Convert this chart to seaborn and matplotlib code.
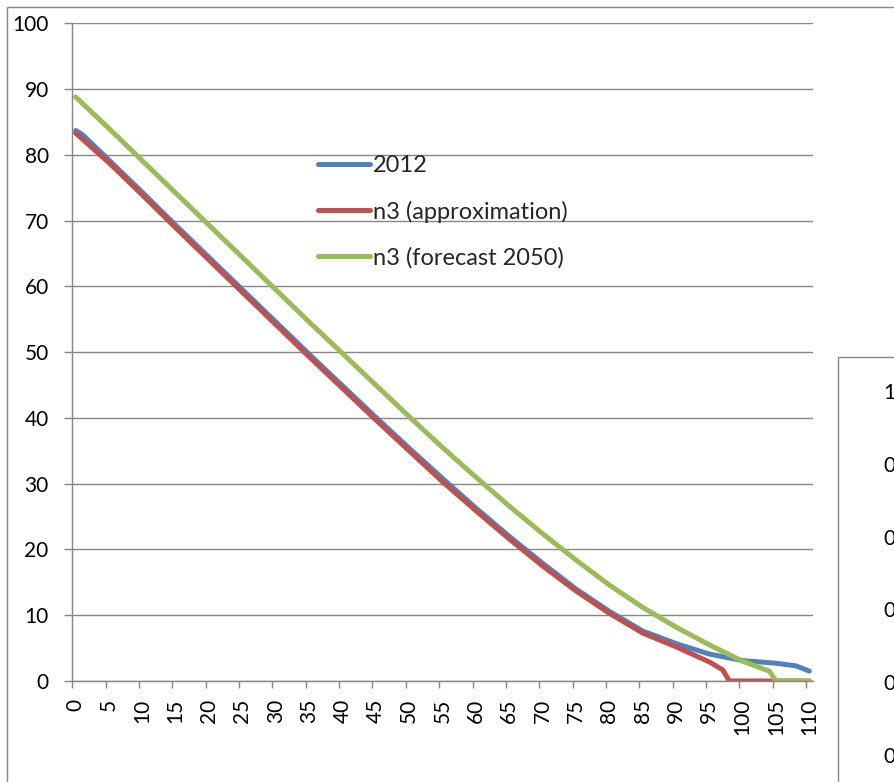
import matplotlib
matplotlib.use("Agg")
import matplotlib.pyplot as plt
import matplotlib.transforms as mtransforms
from matplotlib.patches import Rectangle
from matplotlib.ticker import FixedLocator
import numpy as np
import pandas as pd
import seaborn as sns

# Remaining life expectancy by age
ages_2012 = [0, 1, 5, 10, 15, 20, 25, 30, 35, 40, 45, 50, 55, 60, 65, 70, 75,
             80, 85, 90, 95, 100, 105, 108, 110]
e_2012 = [83.7, 83.1, 79.2, 74.3, 69.3, 64.4, 59.5, 54.6, 49.7, 44.9, 40.1, 35.4,
          30.8, 26.3, 22.0, 17.9, 14.0, 10.6, 7.6, 5.7, 4.1, 3.1, 2.7, 2.3, 1.5]

ages_approx = [0, 5, 10, 15, 20, 25, 30, 35, 40, 45, 50, 55, 60, 65, 70, 75,
               80, 85, 90, 95, 97, 98, 105, 110]
e_approx = [83.3, 78.8, 73.9, 68.9, 64.0, 59.1, 54.2, 49.3, 44.5, 39.7, 35.0,
            30.3, 25.9, 21.6, 17.5, 13.7, 10.3, 7.3, 5.2, 2.9, 1.7, 0.0, 0.0, 0.0]

ages_2050 = [0, 5, 10, 15, 20, 25, 30, 35, 40, 45, 50, 55, 60, 65, 70, 75,
             80, 85, 90, 95, 100, 104, 105, 110]
e_2050 = [88.8, 84.0, 79.1, 74.2, 69.3, 64.4, 59.5, 54.6, 49.8, 45.0, 40.2, 35.5,
          31.0, 26.6, 22.4, 18.4, 14.6, 11.2, 8.2, 5.5, 3.0, 1.5, 0.0, 0.0]

series_names = ["2012", "n3 (approximation)", "n3 (forecast 2050)"]
series_colors = ["#4F81BD", "#C0504D", "#9BBB59"]

x_ticks = list(range(0, 111, 5))
y_ticks = list(range(0, 101, 10))
side_ticks = [1.0, 0.8, 0.6, 0.4, 0.2, 0.0]

df = pd.concat([
    pd.DataFrame({"age": ages_2012, "value": e_2012, "series": series_names[0]}),
    pd.DataFrame({"age": ages_approx, "value": e_approx, "series": series_names[1]}),
    pd.DataFrame({"age": ages_2050, "value": e_2050, "series": series_names[2]}),
], ignore_index=True)

sns.set_style("white")
plt.rcParams["font.family"] = ["Lato", "DejaVu Sans"]

GRAY = "#868686"
W, H = 894, 782
fig = plt.figure(figsize=(W / 100, H / 100), dpi=100)
fig.patch.set_facecolor("white")

# outer chart frame
fig.patches.append(Rectangle((7 / W, -0.2), 1.5, (H - 7) / H + 0.2,
                             transform=fig.transFigure, fill=False,
                             edgecolor=GRAY, linewidth=1.0, zorder=0.5))

ax = fig.add_axes([72.3 / W, 1 - 681 / H, (812.7 - 72.3) / W, (681 - 23.3) / H])
sns.lineplot(data=df, x="age", y="value", hue="series", hue_order=series_names,
             palette=series_colors, estimator=None, linewidth=3.6,
             legend=False, ax=ax)
for ln in ax.lines:
    ln.set_solid_capstyle("round")
    ln.set_solid_joinstyle("round")

ax.set_xlim(-0.5, 110.5)
ax.set_ylim(0, 100)
ax.set_xlabel("")
ax.set_ylabel("")

ax.set_xticks(x_ticks)
ax.set_xticklabels([str(t) for t in x_ticks])
ax.xaxis.set_minor_locator(FixedLocator(np.arange(-0.5, 110, 5)))
ax.tick_params(axis="x", which="major", length=0, pad=13, labelsize=15,
               labelrotation=90, labelcolor="black")
ax.tick_params(axis="x", which="minor", length=5, width=1.0, color=GRAY,
               direction="out", bottom=True)
ax.set_yticks(y_ticks)
ax.tick_params(axis="y", length=6, width=1.0, color=GRAY, pad=11,
               labelsize=15, labelcolor="black", left=True)

ax.grid(axis="y", color=GRAY, linewidth=1.0)
ax.grid(axis="x", visible=False)
ax.set_axisbelow(True)
for side in ["top", "right"]:
    ax.spines[side].set_visible(False)
for side in ["left", "bottom"]:
    ax.spines[side].set_color(GRAY)
    ax.spines[side].set_linewidth(1.0)

ax.legend(ax.lines[:3], series_names, loc="upper left",
          bbox_to_anchor=(318 / W, 1 - 155.5 / H), bbox_transform=fig.transFigure,
          frameon=False, fontsize=17, handlelength=2.2, handletextpad=0.13,
          labelspacing=1.02, borderpad=0, borderaxespad=0)

# neighbouring chart at the lower right
fig.patches.append(Rectangle((838 / W, -0.2), 0.5, (H - 357) / H + 0.2,
                             transform=fig.transFigure, facecolor="white",
                             edgecolor=GRAY, linewidth=1.0, zorder=2))
ax2 = fig.add_axes([883 / W, 1 - 756.7 / H, 0.3, (756.7 - 393.3) / H], zorder=3)
ax2.set_ylim(0, 1)
ax2.axis("off")
trans = mtransforms.blended_transform_factory(ax2.transAxes, ax2.transData)
for v in side_ticks:
    ax2.text(0, v, f"{v:.1f}", transform=trans, ha="left", va="center",
             fontsize=15, color="black", clip_on=False)

fig.savefig("out.png", dpi=100)
